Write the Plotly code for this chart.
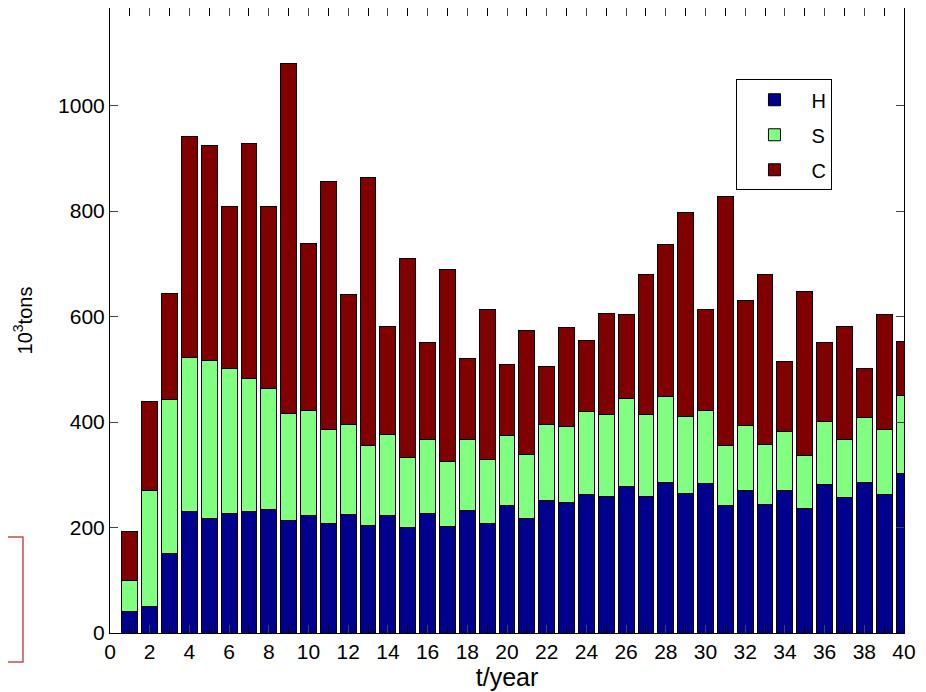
import plotly.graph_objects as go

years = list(range(1, 41))
totals = [193, 438, 644, 941, 924, 809, 929, 809, 1079, 739,
          856, 641, 863, 581, 710, 550, 689, 521, 613, 510,
          574, 506, 579, 554, 606, 603, 679, 737, 798, 613,
          827, 630, 679, 514, 647, 551, 582, 501, 603, 553]
hs_tops = [99, 270, 442, 523, 517, 502, 482, 464, 416, 422,
           386, 395, 356, 376, 332, 366, 325, 366, 329, 375,
           339, 395, 391, 420, 415, 444, 414, 449, 411, 422,
           355, 394, 357, 383, 337, 401, 366, 409, 385, 451]
H = [40, 50, 150, 230, 218, 227, 230, 234, 213, 222,
     208, 224, 203, 222, 200, 227, 202, 232, 208, 242,
     218, 251, 247, 262, 258, 278, 258, 286, 264, 283,
     241, 270, 244, 270, 236, 281, 256, 286, 263, 303]
S = [t - h for t, h in zip(hs_tops, H)]
C = [t - s for t, s in zip(totals, hs_tops)]

series = [("H", H, "#00008F"), ("S", S, "#80FF80"), ("C", C, "#800000")]
x_tick_vals = list(range(0, 41, 2))
y_tick_vals = [0, 200, 400, 600, 800, 1000]

font_family = "Liberation Sans, Arial, sans-serif"

fig = go.Figure()
for i, (name, vals, col) in enumerate(series):
    fig.add_trace(go.Bar(x=years, y=vals, name=name, legendgroup=name,
                         marker=dict(color=col, line=dict(color="black", width=1))))

fig.update_layout(
    barmode="stack", bargap=0.2,
    width=926, height=692,
    margin=dict(l=102, r=30, t=0, b=67, autoexpand=False),
    paper_bgcolor="white", plot_bgcolor="white",
    font=dict(family=font_family, size=21, color="black"),
    showlegend=True,
    legend=dict(x=0.789, y=0.886, xanchor="left", yanchor="top",
                bordercolor="black", borderwidth=1, bgcolor="white",
                font=dict(size=20), traceorder="grouped", tracegroupgap=6,
                itemwidth=64),
    shapes=[dict(type="rect", xref="paper", yref="paper",
                 x0=-0.2, x1=-0.1096, y0=-0.0464, y1=0.1536,
                 line=dict(color="#C0504D", width=1.5))],
)
fig.update_xaxes(range=[0, 40], tickvals=x_tick_vals, ticks="inside", ticklen=8,
                 showline=True, linecolor="black", linewidth=1, mirror="allticks",
                 showgrid=False, zeroline=False, automargin=False,
                 minor=dict(dtick=1, ticks="inside", ticklen=8, tickcolor="black"),
                 title=dict(text="t/year", standoff=4))
fig.update_yaxes(range=[0, 1185], tickvals=y_tick_vals, ticks="inside", ticklen=8,
                 showline=True, linecolor="black", linewidth=1, mirror="allticks",
                 showgrid=False, zeroline=False, automargin=False,
                 title=dict(text="10<sup>3</sup>tons", font=dict(size=20), standoff=20))

fig.write_html("out.html")
